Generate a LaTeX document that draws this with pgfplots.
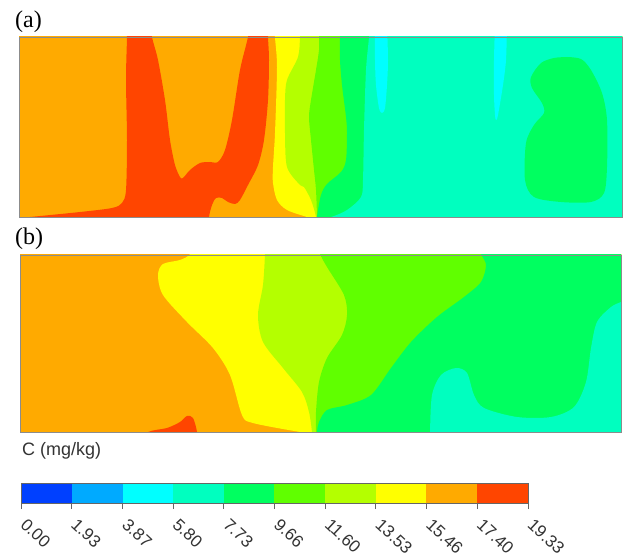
\documentclass[border=0pt]{standalone}
\usepackage{fontspec}
\setmainfont{Liberation Serif}
\setsansfont{Liberation Sans}
\usepackage{pgfplots}
\pgfplotsset{compat=1.18}
\definecolor{c0}{RGB}{0,64,255}
\definecolor{c1}{RGB}{0,170,255}
\definecolor{c2}{RGB}{0,255,255}
\definecolor{c3}{RGB}{0,255,191}
\definecolor{c4}{RGB}{0,255,96}
\definecolor{c5}{RGB}{96,255,0}
\definecolor{c6}{RGB}{180,255,0}
\definecolor{c7}{RGB}{255,255,0}
\definecolor{c8}{RGB}{255,170,0}
\definecolor{c9}{RGB}{255,69,0}
\pgfplotsset{
  panel/.style={anchor=south west,scale only axis,y dir=reverse,xtick=\empty,ytick=\empty,
    axis on top,axis line style={draw=black!45,line width=0.8pt}},
  reg/.style={fill=#1,draw=none,smooth,tension=0.5,forget plot}
}
\begin{document}
\begin{tikzpicture}[x=1pt,y=1pt]
\path[use as bounding box] (0,0) rectangle (624,557);
% panel (a)
\begin{axis}[panel,at={(19pt,339.5pt)},width=603pt,height=180.5pt,xmin=19,xmax=622,ymin=37,ymax=217.5]
\addplot[fill=c8,draw=none,forget plot] coordinates {(0,20)(640,20)(640,230)(0,230)};
\addplot[reg=c9] coordinates {(8,219)(19,218)(30,217)(80,212)(112,208)(122,203)(126,190)(127,140)(126,80)(127,37)(127,22)(151,22)(152,37)(158,60)(165,100)(170,140)(175,165)(180,177)(183,178)(190,170)(200,163)(210,162)(218,162)(225,150)(232,120)(240,70)(248,37)(249,22)(268,22)(268,37)(269,60)(268,100)(264,140)(258,165)(248,185)(240,200)(235,204)(228,202)(222,198)(216,198)(212,205)(209,217)(209,230)(8,230)};
\addplot[reg=c7] coordinates {(275,22)(275,37)(277,67)(275,133)(273,167)(273,183)(277,200)(287,210)(307,217)(314,219)(314,230)(640,230)(640,22)};
\addplot[reg=c6] coordinates {(300,22)(300,37)(298,57)(287,80)(285,100)(285,133)(287,167)(300,185)(304,187)(311,200)(316,217)(316,230)(640,230)(640,22)};
\addplot[reg=c5] coordinates {(319,22)(319,37)(319,50)(316,70)(311,100)(309,117)(311,140)(314,170)(316,190)(317,217)(317,230)(640,230)(640,22)};
\addplot[reg=c4] coordinates {(340,22)(340,37)(340,60)(342,85)(346,117)(347,133)(346,160)(341,172)(327,184)(321,195)(317,217)(317,230)(640,230)(640,22)};
\addplot[reg=c3] coordinates {(369,22)(369,37)(366,70)(364,130)(363,180)(361,197)(347,210)(331,217)(316,219)(316,230)(640,230)(640,22)};
\addplot[reg=c2] coordinates {(375,25)(375,60)(376,85)(379,108)(382,113)(385,108)(387,85)(388,60)(387,25)};
\addplot[reg=c2] coordinates {(495,25)(494,60)(494,95)(495,115)(496,120)(498,115)(503,85)(506,60)(507,25)};
\addplot[reg=c4] coordinates {(567,57)(581,59)(591,70)(602,93)(607,120)(607,167)(604,193)(591,202)(561,202)(534,197)(525,180)(526,143)(534,125)(544,113)(542,103)(532,88)(531,77)(541,63)(554,58)(567,57)};
\end{axis}
% panel (b)
\begin{axis}[panel,at={(20pt,125pt)},width=601pt,height=177pt,xmin=20,xmax=621,ymin=255,ymax=432]
\addplot[fill=c8,draw=none,forget plot] coordinates {(0,240)(640,240)(640,445)(0,445)};
\addplot[reg=c9] coordinates {(130,445)(148,432)(167,428)(180,422)(187,416)(193,418)(197,432)(197,445)};
\addplot[reg=c7] coordinates {(192,240)(190,254)(180,260)(163,264)(158,275)(163,295)(187,322)(213,348)(230,375)(242,415)(253,423)(300,432)(316,434)(316,445)(640,445)(640,240)};
\addplot[reg=c6] coordinates {(265,240)(265,254)(263,285)(258,315)(263,342)(283,368)(302,392)(309,412)(312,432)(313,445)(640,445)(640,240)};
\addplot[reg=c5] coordinates {(316,240)(320,254)(327,267)(344,295)(347,315)(342,335)(327,358)(319,382)(316,412)(316,432)(316,445)(640,445)(640,240)};
\addplot[reg=c4] coordinates {(476,240)(481,254)(486,265)(481,282)(464,297)(437,317)(411,342)(391,368)(371,395)(347,405)(327,410)(319,422)(317,432)(317,445)(640,445)(640,240)};
\addplot[reg=c3] coordinates {(430,445)(430,432)(432,395)(441,375)(456,368)(467,373)(474,395)(484,408)(517,417)(551,417)(574,407)(586,382)(591,348)(597,322)(611,307)(621,302)(635,296)(640,445)};
\end{axis}
% colour bar
\begin{axis}[at={(21pt,54pt)},anchor=south west,scale only axis,width=507pt,height=20pt,
  xmin=0,xmax=19.33,ymin=0,ymax=1,ytick=\empty,axis on top,
  axis line style={draw=black!60,line width=0.9pt},
  xtick={0,1.93,3.87,5.80,7.73,9.66,11.60,13.53,15.46,17.40,19.33},
  xticklabels={0.00,1.93,3.87,5.80,7.73,9.66,11.60,13.53,15.46,17.40,19.33},
  x tick style={draw=black!60,line width=0.9pt},
  xtick pos=bottom,tick align=outside,major tick length=6pt,
  x tick label style={font=\fontsize{17}{17}\selectfont\sffamily,text=black!80,rotate=-43,anchor=north west,inner sep=0pt,xshift=10.5pt,yshift=-1.5pt}]
\addplot[fill=c0,draw=none] coordinates {(0,0)(1.93,0)(1.93,1)(0,1)};
\addplot[fill=c1,draw=none] coordinates {(1.93,0)(3.87,0)(3.87,1)(1.93,1)};
\addplot[fill=c2,draw=none] coordinates {(3.87,0)(5.80,0)(5.80,1)(3.87,1)};
\addplot[fill=c3,draw=none] coordinates {(5.80,0)(7.73,0)(7.73,1)(5.80,1)};
\addplot[fill=c4,draw=none] coordinates {(7.73,0)(9.66,0)(9.66,1)(7.73,1)};
\addplot[fill=c5,draw=none] coordinates {(9.66,0)(11.60,0)(11.60,1)(9.66,1)};
\addplot[fill=c6,draw=none] coordinates {(11.60,0)(13.53,0)(13.53,1)(11.60,1)};
\addplot[fill=c7,draw=none] coordinates {(13.53,0)(15.46,0)(15.46,1)(13.53,1)};
\addplot[fill=c8,draw=none] coordinates {(15.46,0)(17.40,0)(17.40,1)(15.46,1)};
\addplot[fill=c9,draw=none] coordinates {(17.40,0)(19.33,0)(19.33,1)(17.40,1)};
\end{axis}
\node[anchor=base west,inner sep=0pt,font=\fontsize{24}{24}\selectfont] at (15,557-28) {(a)};
\node[anchor=base west,inner sep=0pt,font=\fontsize{24}{24}\selectfont] at (15,557-245) {(b)};
\node[anchor=base west,inner sep=0pt,text=black!80,font=\fontsize{18}{18}\selectfont\sffamily] at (22,557-456) {C (mg/kg)};
\end{tikzpicture}
\end{document}
